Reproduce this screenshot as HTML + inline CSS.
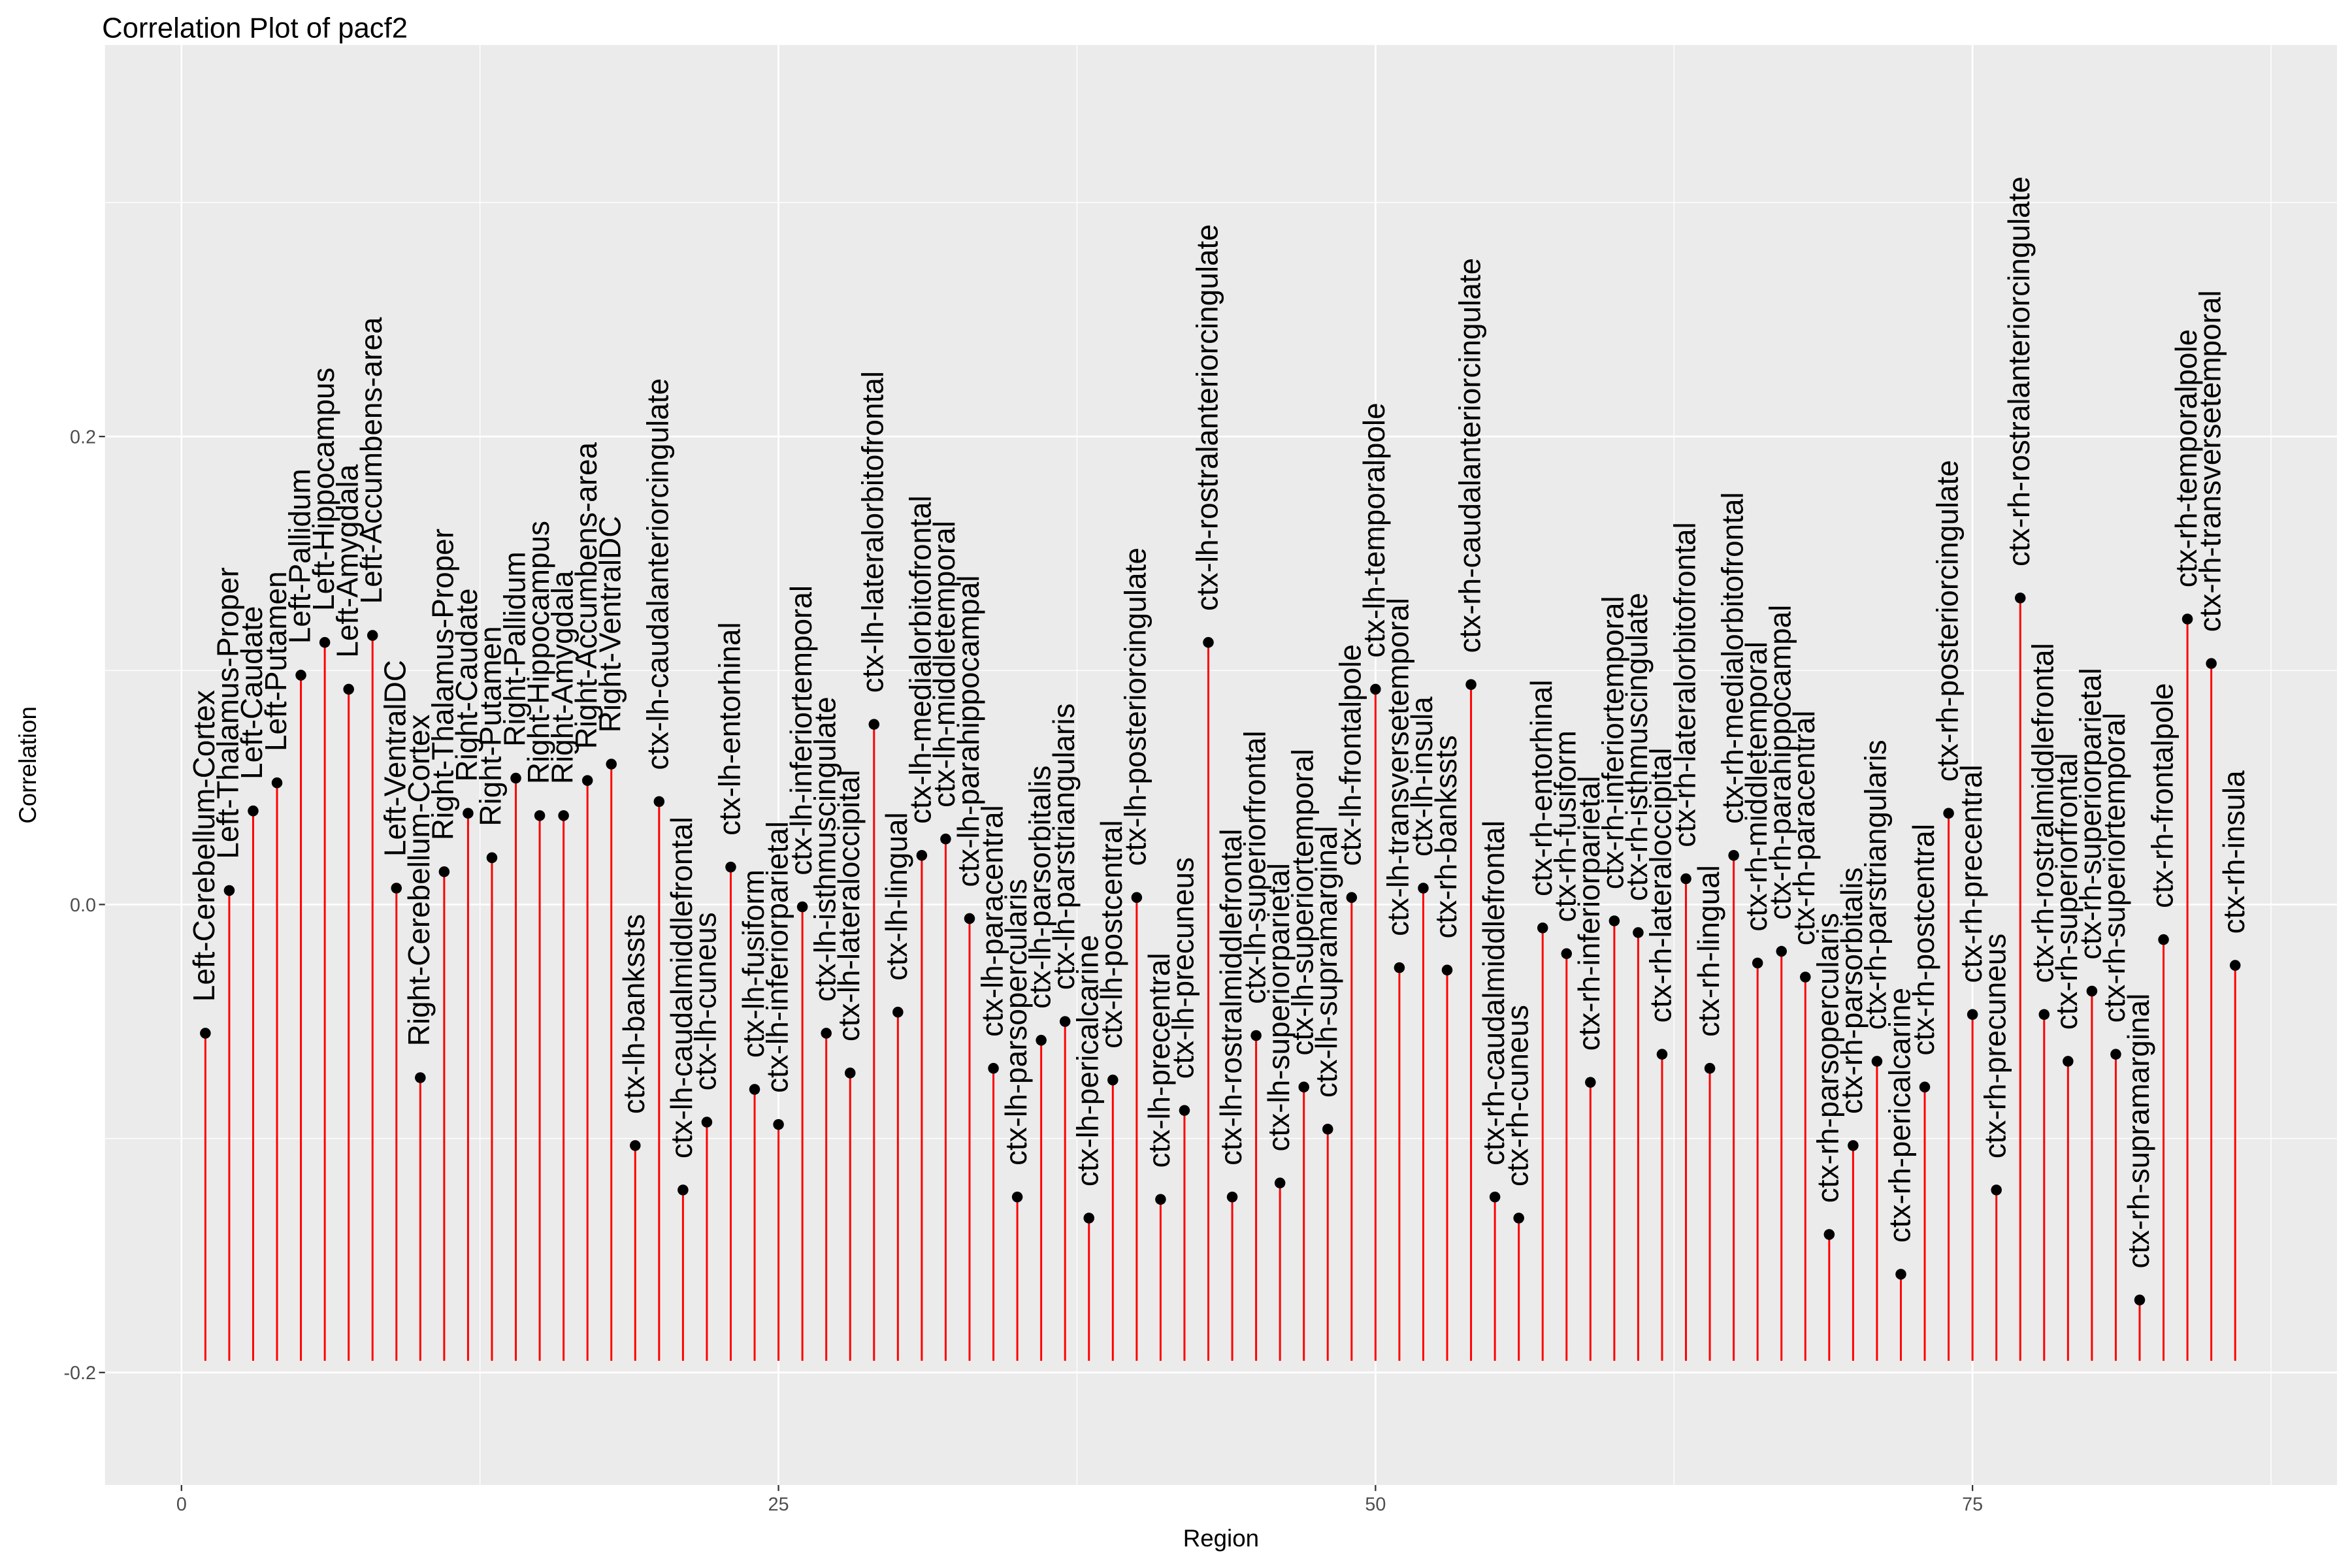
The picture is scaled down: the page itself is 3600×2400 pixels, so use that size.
<!DOCTYPE html>
<html><head><meta charset="utf-8"><style>html,body{margin:0;padding:0;background:#fff}svg{display:block}</style></head>
<body>
<svg id="chart" width="3600" height="2400" viewBox="0 0 1568 1045.33" xmlns="http://www.w3.org/2000/svg" font-family="Liberation Sans, Arial, sans-serif">
<rect width="1568" height="1046" fill="#fff"/>
<text x="68" y="25" font-size="19" fill="#000">Correlation Plot of pacf2</text>
<rect x="70" y="30" width="1488" height="960" fill="#ebebeb"/>
<g id="grid"></g>
<g id="marks"></g>
<g id="axes"></g>
<text x="814" y="1031" font-size="16" text-anchor="middle">Region</text>
<text transform="translate(24,510) rotate(-90)" font-size="16" text-anchor="middle">Correlation</text>
</svg>
<script>
const regions = ["Left-Cerebellum-Cortex","Left-Thalamus-Proper","Left-Caudate","Left-Putamen","Left-Pallidum","Left-Hippocampus","Left-Amygdala","Left-Accumbens-area","Left-VentralDC","Right-Cerebellum-Cortex","Right-Thalamus-Proper","Right-Caudate","Right-Putamen","Right-Pallidum","Right-Hippocampus","Right-Amygdala","Right-Accumbens-area","Right-VentralDC","ctx-lh-bankssts","ctx-lh-caudalanteriorcingulate","ctx-lh-caudalmiddlefrontal","ctx-lh-cuneus","ctx-lh-entorhinal","ctx-lh-fusiform","ctx-lh-inferiorparietal","ctx-lh-inferiortemporal","ctx-lh-isthmuscingulate","ctx-lh-lateraloccipital","ctx-lh-lateralorbitofrontal","ctx-lh-lingual","ctx-lh-medialorbitofrontal","ctx-lh-middletemporal","ctx-lh-parahippocampal","ctx-lh-paracentral","ctx-lh-parsopercularis","ctx-lh-parsorbitalis","ctx-lh-parstriangularis","ctx-lh-pericalcarine","ctx-lh-postcentral","ctx-lh-posteriorcingulate","ctx-lh-precentral","ctx-lh-precuneus","ctx-lh-rostralanteriorcingulate","ctx-lh-rostralmiddlefrontal","ctx-lh-superiorfrontal","ctx-lh-superiorparietal","ctx-lh-superiortemporal","ctx-lh-supramarginal","ctx-lh-frontalpole","ctx-lh-temporalpole","ctx-lh-transversetemporal","ctx-lh-insula","ctx-rh-bankssts","ctx-rh-caudalanteriorcingulate","ctx-rh-caudalmiddlefrontal","ctx-rh-cuneus","ctx-rh-entorhinal","ctx-rh-fusiform","ctx-rh-inferiorparietal","ctx-rh-inferiortemporal","ctx-rh-isthmuscingulate","ctx-rh-lateraloccipital","ctx-rh-lateralorbitofrontal","ctx-rh-lingual","ctx-rh-medialorbitofrontal","ctx-rh-middletemporal","ctx-rh-parahippocampal","ctx-rh-paracentral","ctx-rh-parsopercularis","ctx-rh-parsorbitalis","ctx-rh-parstriangularis","ctx-rh-pericalcarine","ctx-rh-postcentral","ctx-rh-posteriorcingulate","ctx-rh-precentral","ctx-rh-precuneus","ctx-rh-rostralanteriorcingulate","ctx-rh-rostralmiddlefrontal","ctx-rh-superiorfrontal","ctx-rh-superiorparietal","ctx-rh-superiortemporal","ctx-rh-supramarginal","ctx-rh-frontalpole","ctx-rh-temporalpole","ctx-rh-transversetemporal","ctx-rh-insula"];
const correlations = [-0.055,0.006,0.040,0.052,0.098,0.112,0.092,0.115,0.007,-0.074,0.014,0.039,0.020,0.054,0.038,0.038,0.053,0.060,-0.103,0.044,-0.122,-0.093,0.016,-0.079,-0.094,-0.001,-0.055,-0.072,0.077,-0.046,0.021,0.028,-0.006,-0.070,-0.125,-0.058,-0.050,-0.134,-0.075,0.003,-0.126,-0.088,0.112,-0.125,-0.056,-0.119,-0.078,-0.096,0.003,0.092,-0.027,0.007,-0.028,0.094,-0.125,-0.134,-0.010,-0.021,-0.076,-0.007,-0.012,-0.064,0.011,-0.070,0.021,-0.025,-0.020,-0.031,-0.141,-0.103,-0.067,-0.158,-0.078,0.039,-0.047,-0.122,0.131,-0.047,-0.067,-0.037,-0.064,-0.169,-0.015,0.122,0.103,-0.026];
const segmentBase = -0.195;
const xTicks = [0,25,50,75];
const xMinor = [12.5,37.5,62.5,87.5];
const yTicks = [-0.2,0.0,0.2];
const yMinor = [-0.1,0.1,0.3];
const yTickLabels = ["-0.2","0.0","0.2"];

const NS="http://www.w3.org/2000/svg";
const X0=70,X1=1558,Y0=30,Y1=990;
function xs(v){return 121+(v)*(917-121)/50;}
function ys(v){return 603-v*1560;}
function mk(tag,attrs,parent){const e=document.createElementNS(NS,tag);for(const k in attrs)e.setAttribute(k,attrs[k]);parent.appendChild(e);return e;}
const grid=document.getElementById('grid'),marks=document.getElementById('marks'),axes=document.getElementById('axes');
yMinor.forEach(v=>{const l=mk('line',{x1:X0,x2:X1,y1:ys(v),y2:ys(v),stroke:'#fff','stroke-width':0.6},grid);

});
xMinor.forEach(v=>{const l=mk('line',{x1:xs(v),x2:xs(v),y1:Y0,y2:Y1,stroke:'#fff','stroke-width':0.6},grid);

});
yTicks.forEach((v,i)=>{const l=mk('line',{x1:X0,x2:X1,y1:ys(v),y2:ys(v),stroke:'#fff','stroke-width':1.2},grid);


const t=mk('line',{x1:X0-4,x2:X0,y1:ys(v),y2:ys(v),stroke:'#333','stroke-width':1},axes);


const tx=mk('text',{x:X0-6,y:ys(v)+4.5,'font-size':12.5,fill:'#4d4d4d','text-anchor':'end'},axes);tx.textContent=yTickLabels[i];

});
xTicks.forEach(v=>{const l=mk('line',{x1:xs(v),x2:xs(v),y1:Y0,y2:Y1,stroke:'#fff','stroke-width':1.2},grid);


const t=mk('line',{x1:xs(v),x2:xs(v),y1:Y1,y2:Y1+4,stroke:'#333','stroke-width':1},axes);


const tx=mk('text',{x:xs(v),y:Y1+17,'font-size':12.5,fill:'#4d4d4d','text-anchor':'middle'},axes);tx.textContent=String(v);

});
correlations.forEach((c,i)=>{const x=xs(i+1),y=ys(c);
const s=mk('line',{x1:x,x2:x,y1:ys(segmentBase),y2:y,stroke:'#ff0000','stroke-width':1.3},marks);


const p=mk('circle',{cx:x,cy:y,r:3.6,fill:'#000'},marks);


const t=mk('text',{transform:`translate(${x+6},${y-21}) rotate(-90)`,'font-size':20,fill:'#000'},marks);
t.textContent=regions[i];

});
</script>
</body></html>
